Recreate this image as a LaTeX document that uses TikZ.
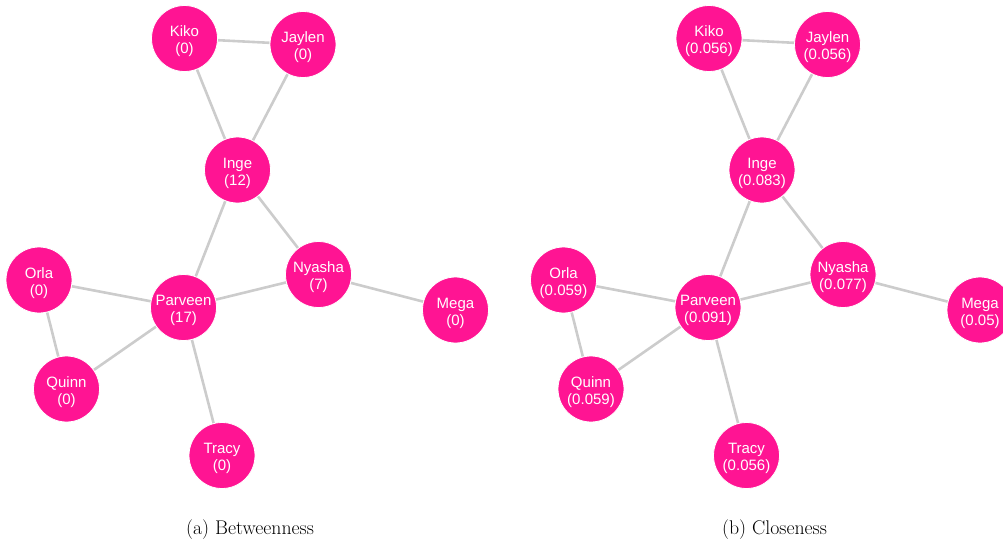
\documentclass[tikz,border=0pt]{standalone}
\usepackage{fontspec}
\setmainfont{Latin Modern Roman}
\newfontfamily\labelfont{Liberation Sans}
\definecolor{nodepink}{RGB}{255,20,147}
\definecolor{edgegray}{RGB}{204,204,204}
\tikzset{
  person/.style={circle, fill=nodepink, draw=white, line width=0.8pt,
    minimum size=66pt, inner sep=0pt, text=white, align=center,
    text height=30pt, text depth=0pt,
    font=\labelfont\fontsize{15}{17}\selectfont},
  tie/.style={draw=edgegray, line width=2.6pt},
  caption/.style={font=\fontsize{19.8}{24}\selectfont, inner sep=0pt}
}
% One network; the nine arguments are the scores shown under the names
\newcommand\socialnet[9]{%
  \node[person] (kiko)    at (184.5,38.5) {Kiko\\(#1)};
  \node[person] (jaylen)  at (303,44.5)   {Jaylen\\(#2)};
  \node[person] (inge)    at (237.5,170)  {Inge\\(#3)};
  \node[person] (orla)    at (39,280)     {Orla\\(#4)};
  \node[person] (parveen) at (183.5,307.5){Parveen\\(#5)};
  \node[person] (nyasha)  at (318.5,274.5){Nyasha\\(#6)};
  \node[person] (mega)    at (455.5,310)  {Mega\\(#7)};
  \node[person] (quinn)   at (66.5,389)   {Quinn\\(#8)};
  \node[person] (tracy)   at (222,455.5)  {Tracy\\(#9)};
  \begin{pgfonlayer}{background}
    \draw[tie] (kiko) -- (jaylen);
    \draw[tie] (kiko) -- (inge);
    \draw[tie] (jaylen) -- (inge);
    \draw[tie] (inge) -- (parveen);
    \draw[tie] (inge) -- (nyasha);
    \draw[tie] (orla) -- (parveen);
    \draw[tie] (orla) -- (quinn);
    \draw[tie] (quinn) -- (parveen);
    \draw[tie] (parveen) -- (nyasha);
    \draw[tie] (parveen) -- (tracy);
    \draw[tie] (nyasha) -- (mega);
  \end{pgfonlayer}
}
\pgfdeclarelayer{background}
\pgfsetlayers{background,main}
\begin{document}
\begin{tikzpicture}[x=1pt, y=-1pt]
  \useasboundingbox (0,0) rectangle (1003,542);
  \clip (0,0) rectangle (1003,542);
  \begin{scope}[name prefix=a-]
    \socialnet{0}{0}{12}{0}{17}{7}{0}{0}{0}
    \node[caption] (capa) at (250,530) {(a) Betweenness};
  \end{scope}
  \begin{scope}[xshift=524.5pt, name prefix=b-]
    \socialnet{0.056}{0.056}{0.083}{0.059}{0.091}{0.077}{0.05}{0.059}{0.056}
    \node[caption] (capb) at (250,530) {(b) Closeness};
  \end{scope}
\end{tikzpicture}
\end{document}
